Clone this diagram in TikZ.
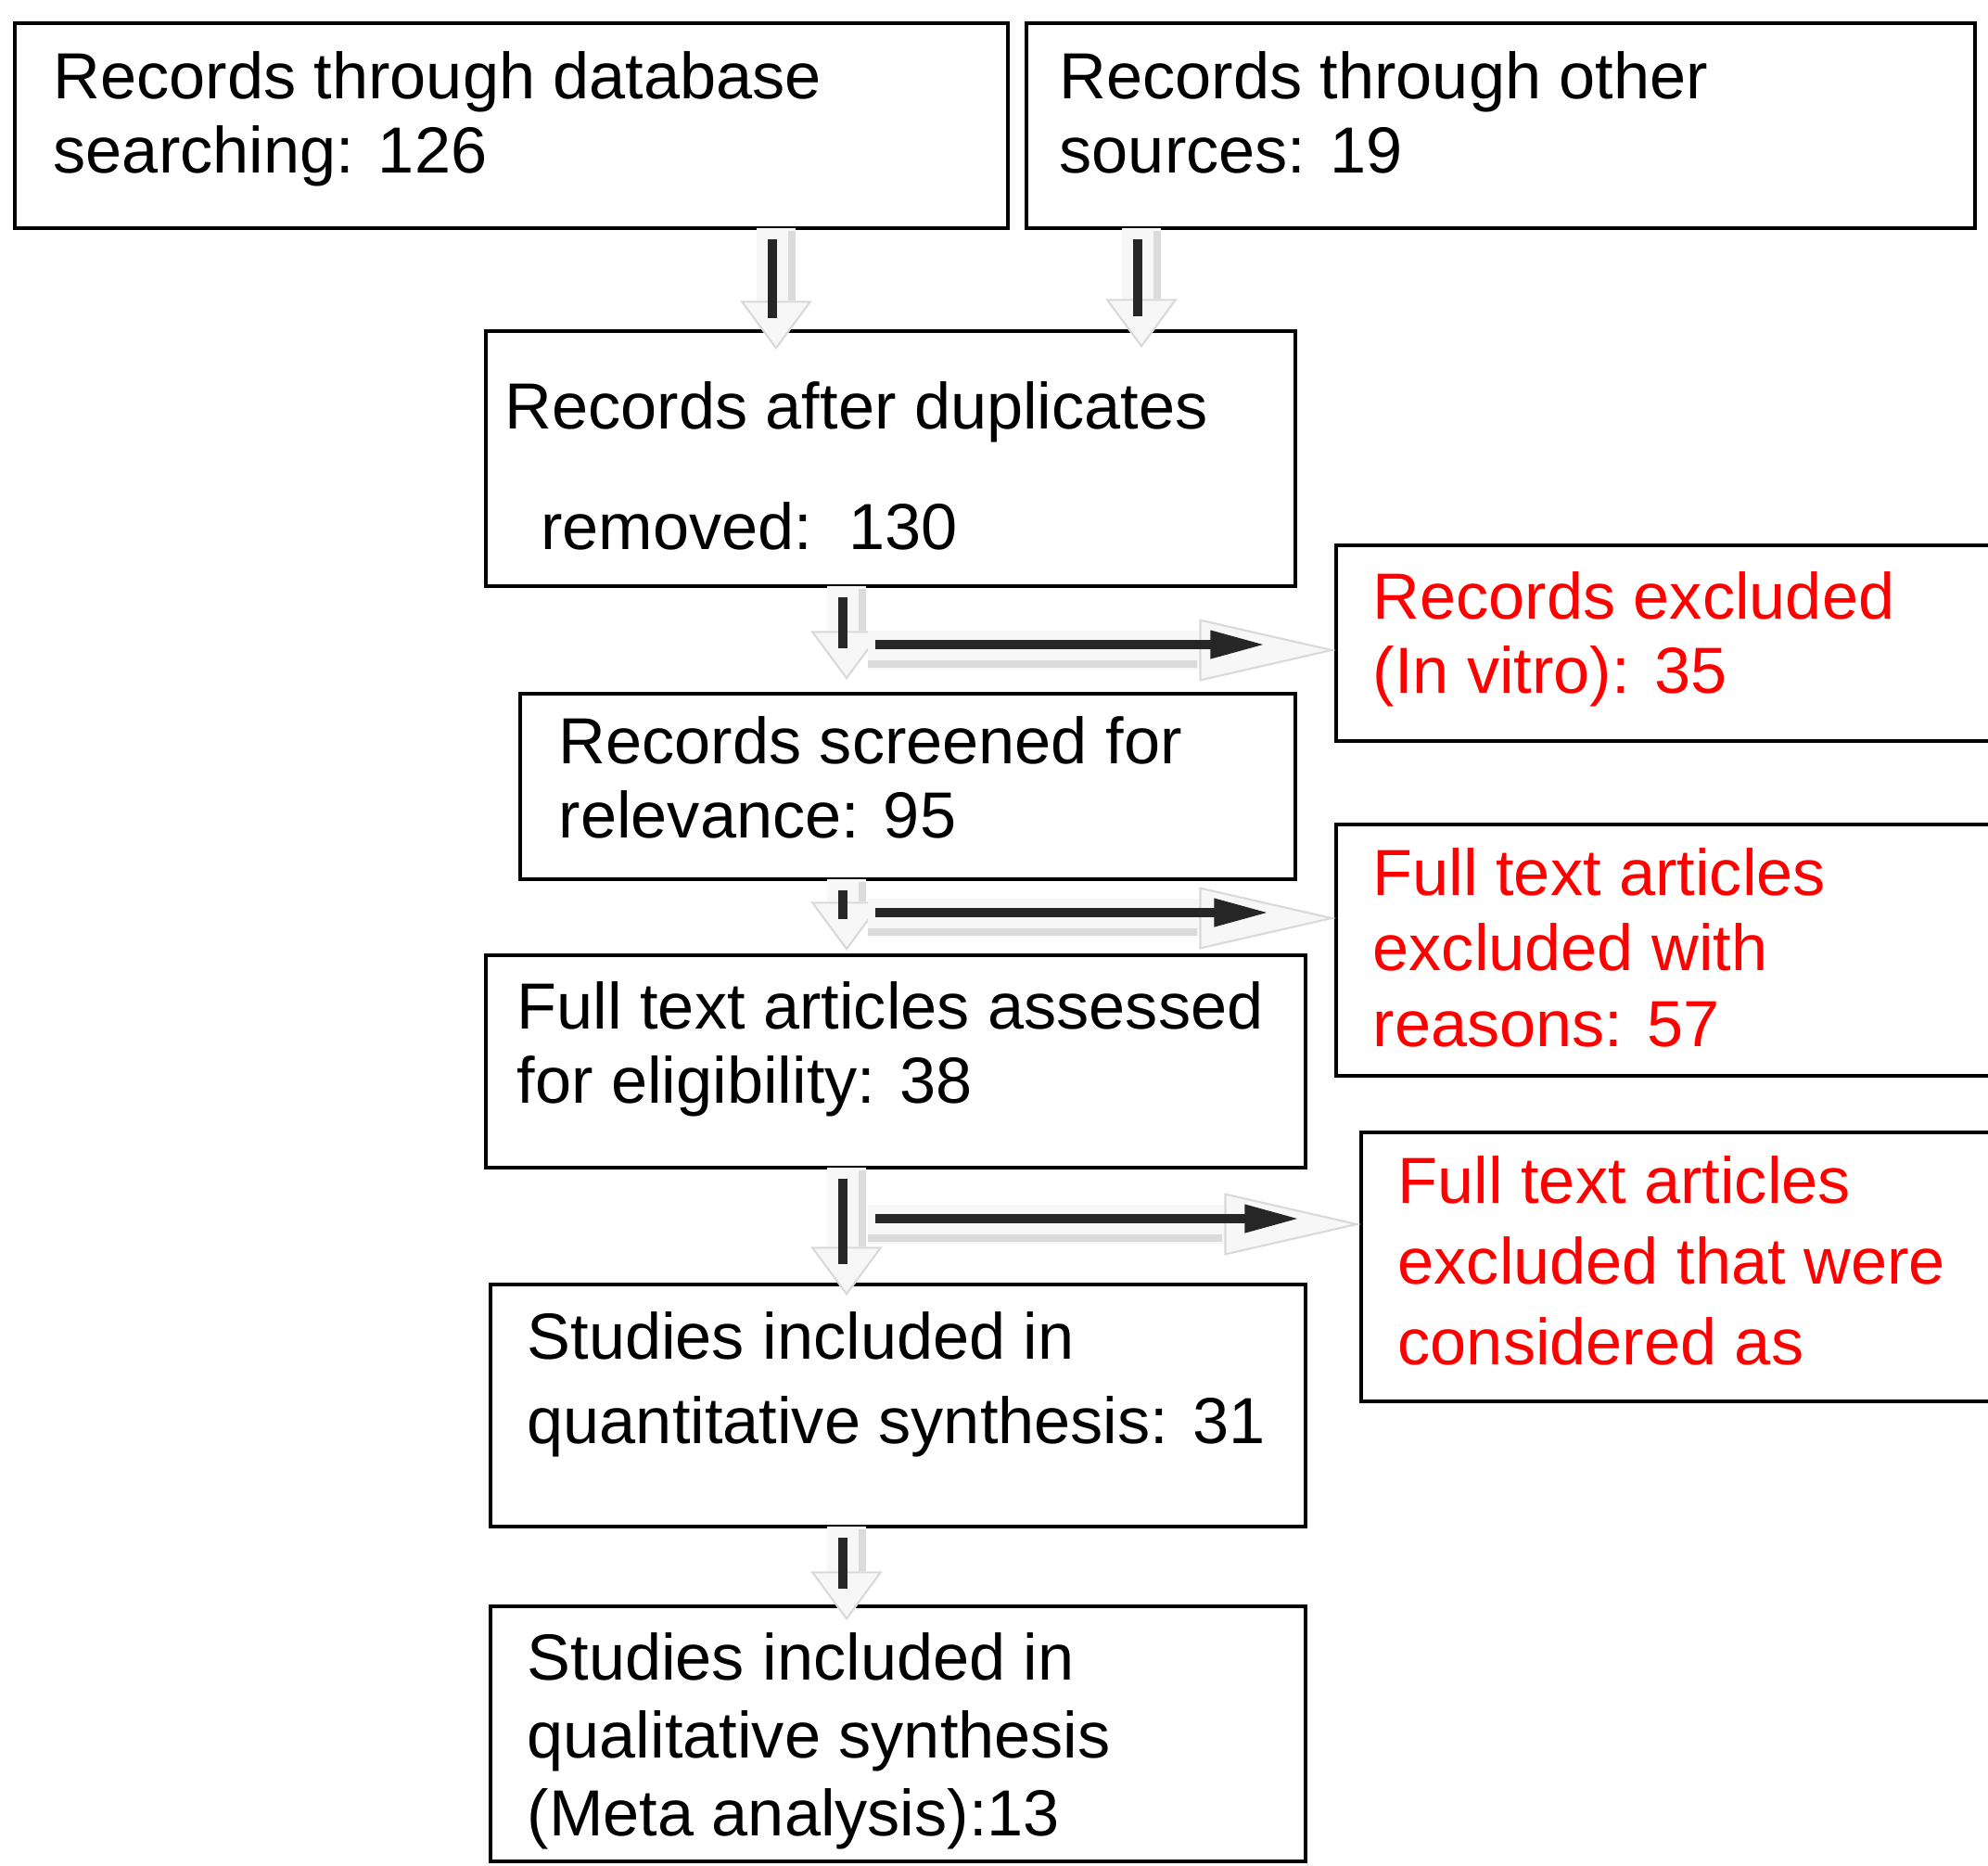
\documentclass[tikz,border=0pt]{standalone}
\usepackage{fontspec}
\setmainfont{Liberation Sans}
\usetikzlibrary{arrows.meta,calc}

\tikzset{
  box/.style={draw, line width=1.3pt, anchor=north west, inner sep=0pt, outer sep=0pt},
  boxtext/.style={anchor=north west, align=left, inner sep=0pt, font=\fontsize{20pt}{#1}\selectfont},
  boxtext/.default=22.8pt,
  fatdown/.style={line width=12pt, gray!6, -{Triangle[length=15pt,width=22pt,color=gray!30,fill=gray!6,line width=0.6pt]}},
  fatright/.style={line width=12pt, gray!6, -{Triangle[length=42pt,width=19pt,color=gray!30,fill=gray!6,line width=0.6pt]}},
  shade/.style={line width=2.2pt, gray!28},
  darkline/.style={line width=2.8pt, black!85},
  blackarrow/.style={line width=2.8pt, black!85, -{Triangle[length=17pt,width=8pt]}},
}

\begin{document}
\begin{tikzpicture}
  \useasboundingbox (0,0) rectangle (21.44,-20.11);
  \clip (0,0) rectangle (21.44,-20.11);

  % boxes
  \node[box, minimum width=10.71cm, minimum height=2.21cm] (recdb)   at (0.16,-0.25)  {};
  \node[box, minimum width=10.23cm, minimum height=2.21cm] (recoth)  at (11.07,-0.25) {};
  \node[box, minimum width=8.73cm,  minimum height=2.75cm] (recdup)  at (5.24,-3.57)  {};
  \node[box, minimum width=8.36cm,  minimum height=2.00cm] (recscr)  at (5.61,-7.48)  {};
  \node[box, minimum width=8.84cm,  minimum height=2.29cm] (fullass) at (5.24,-10.30) {};
  \node[box, minimum width=8.79cm,  minimum height=2.61cm] (quant)   at (5.29,-13.85) {};
  \node[box, minimum width=8.79cm,  minimum height=2.75cm] (qual)    at (5.29,-17.32) {};
  \node[box, minimum width=8cm,     minimum height=2.11cm] (excl1)   at (14.41,-5.88) {};
  \node[box, minimum width=8cm,     minimum height=2.71cm] (excl2)   at (14.41,-8.89) {};
  \node[box, minimum width=8cm,     minimum height=2.90cm] (excl3)   at (14.68,-12.21) {};

  % texts
  \node[boxtext] (recdbtxt)   at (0.57,-0.544)  {Records through database\\searching: 126};
  \node[boxtext] (recothtxt)  at (11.42,-0.544) {Records through other\\sources: 19};
  \node[boxtext] (recduptxt)  at (5.44,-4.104)  {Records after duplicates\\[14.2pt]\hspace*{11pt}removed:\ \ 130};
  \node[boxtext] (recscrtxt)  at (6.02,-7.714)  {Records screened for\\relevance: 95};
  \node[boxtext] (fullasstxt) at (5.57,-10.574) {Full text articles assessed\\for eligibility: 38};
  \node[boxtext=25.9pt] (quanttxt) at (5.68,-14.134) {Studies included in\\quantitative synthesis: 31};
  \node[boxtext=23.9pt] (qualtxt)  at (5.68,-17.594) {Studies included in\\qualitative synthesis\\(Meta analysis):13};
  \node[boxtext=23pt, text=red]   (excl1txt) at (14.80,-6.154)  {Records excluded\\(In vitro): 35};
  \node[boxtext=23.3pt, text=red] (excl2txt) at (14.80,-9.134)  {Full text articles\\excluded with\\reasons: 57};
  \node[boxtext=24.8pt, text=red] (excl3txt) at (15.07,-12.454) {Full text articles\\excluded that were\\considered as};

  % downward arrows
  \foreach \a/\b/\x/\e in {recdb/recdup/8.37/-0.2, recoth/recdup/12.31/-0.18,
                           recdup/recscr/9.13/0.15, recscr/fullass/9.13/0.05,
                           fullass/quant/9.13/-0.12, quant/qual/9.13/-0.15} {
    \coordinate (v) at (\x,0);
    \draw[fatdown] (v |- \a.south) -- ($(v |- \b.north)+(0,\e)$);
    \draw[shade] ($(v |- \a.south)+(0.17,-0.03)$) -- ($(v |- \b.north)+(0.17,\e+0.53)$);
    \draw[darkline] ($(v |- \a.south)+(-0.04,-0.12)$) -- ($(v |- \b.north)+(-0.04,\e+0.34)$);
  }

  % arrows to the excluded records
  \foreach \n/\y/\s in {excl1/-7.01/0.76, excl2/-9.90/0.72, excl3/-13.20/0.66} {
    \coordinate (h) at (9.36,\y);
    \draw[fatright] (h) -- (h -| \n.west);
    \draw[shade] ($(h)+(0,-0.15)$) -- ($(h -| \n.west)+(-1.5,-0.15)$);
    \draw[blackarrow] ($(h)+(0.08,0.06)$) -- ($(h -| \n.west)+(-\s,0.06)$);
  }
\end{tikzpicture}
\end{document}
